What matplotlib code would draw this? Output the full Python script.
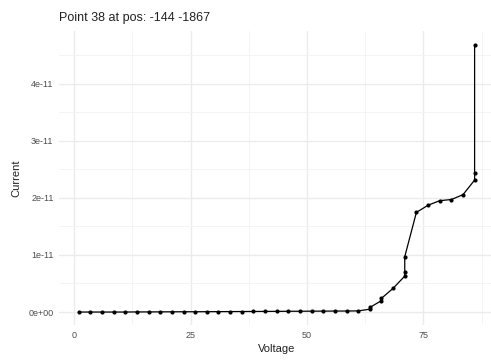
import matplotlib
matplotlib.use("Agg")
import matplotlib.pyplot as plt
import numpy as np

plt.rcParams['font.family'] = ['Liberation Sans', 'DejaVu Sans']

title = "Point 38 at pos: -144 -1867"
voltage = [1, 3.5, 6, 8.5, 11, 13.5, 16, 18.5, 21, 23.5, 26, 28.5, 31, 33.5, 36,
           38.5, 41, 43.5, 46, 48.5, 51, 53.5, 56, 58.5, 61, 63.5, 63.5, 66, 66,
           68.5, 71, 71, 71, 73.5, 76, 78.5, 81, 83.5, 86, 86, 86]
current = [0.000, 0.000, 0.000, 0.000, 0.000, 0.002, 0.002, 0.003, 0.004, 0.005,
           0.005, 0.006, 0.007, 0.008, 0.009, 0.010, 0.011, 0.012, 0.013, 0.014,
           0.015, 0.016, 0.017, 0.018, 0.020, 0.050, 0.080, 0.200, 0.240,
           0.415, 0.630, 0.700, 0.970, 1.745, 1.870, 1.950, 1.970, 2.055, 2.310, 2.430, 4.680]
current = [c * 1e-11 for c in current]

xticks = [0, 25, 50, 75]
yticks = [0, 1e-11, 2e-11, 3e-11, 4e-11]
ytick_labels = ["0e+00", "1e-11", "2e-11", "3e-11", "4e-11"]

W, H = 491, 361
fig = plt.figure(figsize=(W / 100, H / 100), dpi=100)
left, right = 59, 494.4
top, bottom = 31.4, 325.4
ax = fig.add_axes([left / W, (H - bottom) / H, (right - left) / W, (bottom - top) / H])

xmin, xmax = min(voltage), max(voltage)
xr = xmax - xmin
ymin, ymax = min(current), max(current)
yr = ymax - ymin
ax.set_xlim(xmin - 0.05 * xr, xmax + 0.05 * xr)
ax.set_ylim(ymin - 0.05 * yr, ymax + 0.05 * yr)

ax.plot(voltage, current, color='black', linewidth=0.9, zorder=3)
ax.scatter(voltage, current, s=9, color='black', zorder=4, linewidths=0)

ax.set_xticks(xticks)
ax.set_xticklabels([str(t) for t in xticks])
ax.set_yticks(yticks)
ax.set_yticklabels(ytick_labels)
ax.set_xticks([12.5, 37.5, 62.5, 87.5], minor=True)
ax.set_yticks([0.5e-11, 1.5e-11, 2.5e-11, 3.5e-11, 4.5e-11], minor=True)

ax.grid(True, which='major', color='#ebebeb', linewidth=1.0)
ax.grid(True, which='minor', color='#f3f3f3', linewidth=0.6)
ax.set_axisbelow(True)
for s in ax.spines.values():
    s.set_visible(False)
ax.tick_params(which='both', length=0, labelsize=6.5, labelcolor='#4d4d4d', pad=4)

ax.set_xlabel("Voltage", fontsize=8, color='#222222', labelpad=3)
ax.set_ylabel("Current", fontsize=8, color='#222222', labelpad=5)
fig.text(left / W, 1 - 18 / H, title, fontsize=9, color='#222222', va='center', ha='left')

fig.savefig("out.png", dpi=100)
